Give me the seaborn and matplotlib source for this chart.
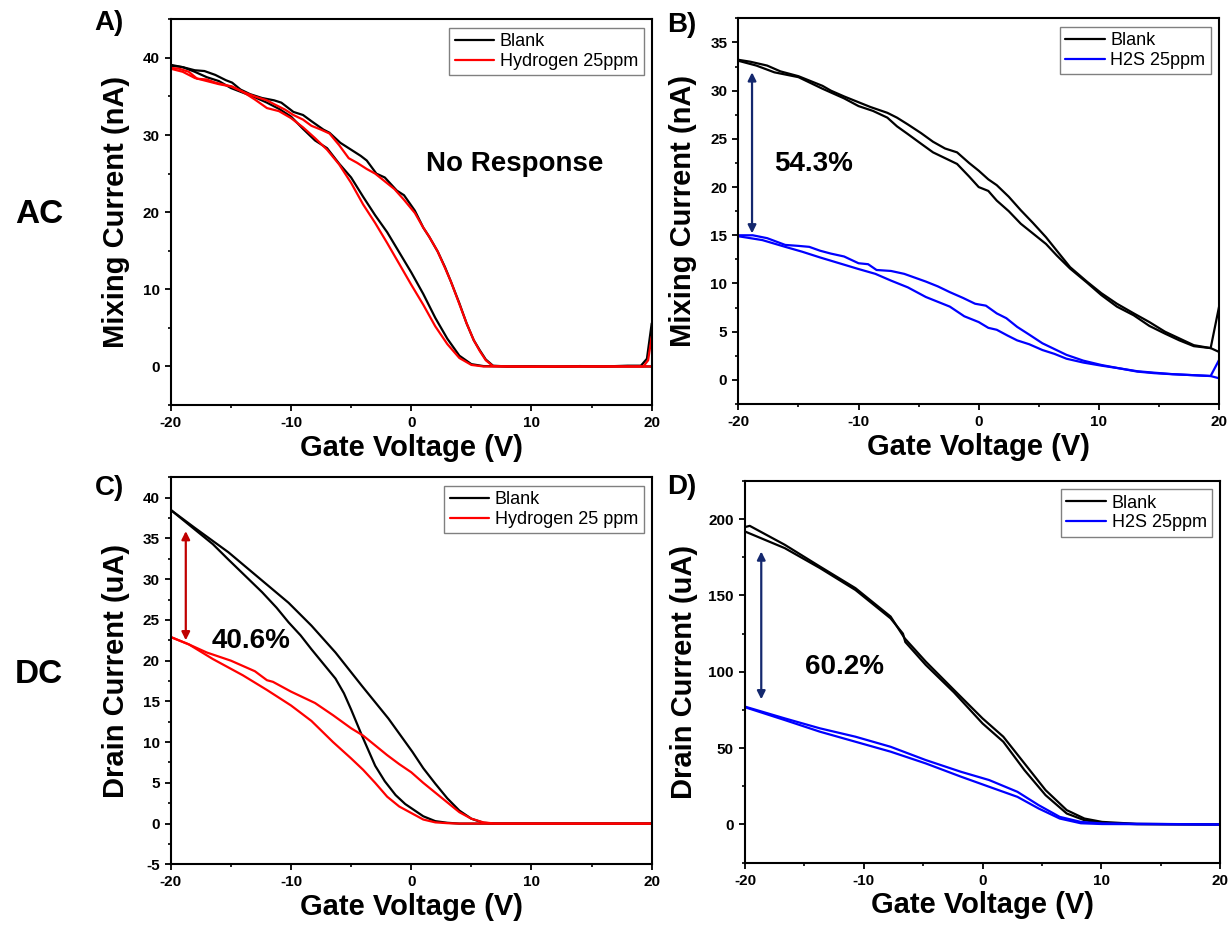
import matplotlib
matplotlib.use('Agg')
import matplotlib.pyplot as plt
import seaborn as sns
import pandas as pd
from matplotlib.ticker import MultipleLocator
from matplotlib.lines import Line2D

# ---------------- Panel A: AC mixing current, hydrogen ----------------
a_blank_fwd_v = [-20, -19, -18, -17.2, -16.3, -15.4, -14.9, -14.2, -13.4, -12.4, -11.4, -10.8, -9.8, -9.0, -8.3,
                 -7.3, -6.8, -5.9, -5.1, -4.2, -3.7, -2.9, -2.2, -1.2, -0.6, 0.3, 1.0, 1.5, 2.2, 2.8, 3.3, 4.0,
                 4.6, 5.2, 5.7, 6.2, 6.8, 8, 10, 12, 14, 16, 18, 19.1, 19.6, 20]
a_blank_fwd_i = [39.1, 38.8, 38.4, 38.3, 37.8, 37.1, 36.8, 35.9, 35.3, 34.8, 34.5, 34.2, 33.0, 32.6, 31.8,
                 30.7, 30.3, 29.0, 28.2, 27.3, 26.7, 25.0, 24.5, 22.8, 22.2, 20.2, 18.0, 16.8, 14.9, 12.9, 11.0, 8.2,
                 5.6, 3.4, 2.1, 0.9, 0.1, 0, 0, -0.05, 0.05, 0, 0.1, 0.1, 1.0, 5.6]
a_blank_rev_v = [-20, -19, -18, -17, -16, -15, -14, -13, -12, -11, -10, -9, -8, -7, -6, -5, -4, -3, -2, -1,
                 0, 1, 2, 3, 4, 5, 6, 8, 12, 16, 20]
a_blank_rev_i = [39.0, 38.8, 38.2, 37.5, 37.0, 36.1, 35.5, 34.9, 34.2, 33.4, 32.4, 30.8, 29.3, 28.3, 26.3, 24.5,
                 22.0, 19.6, 17.4, 14.8, 12.2, 9.4, 6.3, 3.6, 1.4, 0.3, 0.05, 0, 0, 0, 0]
a_gas_fwd_v = [-20, -19.3, -18.5, -17.8, -17.0, -16.3, -15.5, -14.9, -14.0, -13.0, -12.0, -11.4, -10.5, -9.8,
               -9.0, -8.3, -7.5, -6.8, -6.0, -5.2, -4.5, -3.7, -3.0, -2.2, -1.4, -0.6, 0.3, 1.0, 1.5, 2.2, 2.8,
               3.3, 4.0, 4.6, 5.2, 5.7, 6.2, 6.8, 8, 10, 14, 18, 19.3, 19.7, 20]
a_gas_fwd_i = [38.7, 38.6, 38.2, 37.3, 37.2, 36.8, 36.5, 36.3, 35.6, 35.0, 34.5, 34.0, 33.3, 32.6,
               32.0, 31.2, 30.7, 30.2, 28.7, 27.0, 26.4, 25.6, 25.0, 24.0, 23.0, 21.6, 19.9, 18.0, 16.8, 14.9, 12.8,
               11.0, 8.1, 5.6, 3.4, 2.0, 0.8, 0.05, 0, -0.05, 0, 0, 0, 0.8, 3.9]
a_gas_rev_v = [-20, -19, -18, -17, -16, -15, -14, -13, -12, -11, -10, -9, -8, -7, -6, -5, -4, -3, -2, -1,
               0, 1, 2, 3, 4, 5, 6, 8, 12, 16, 20]
a_gas_rev_i = [38.6, 38.2, 37.4, 37.0, 36.6, 36.3, 35.6, 34.6, 33.5, 33.1, 32.2, 31.0, 29.6, 28.1, 26.2, 23.8,
               21.0, 18.6, 16.0, 13.3, 10.6, 8.0, 5.2, 2.9, 1.1, 0.2, 0, 0, 0, 0, 0]

# ---------------- Panel B: AC mixing current, H2S ----------------
b_blank_fwd_v = [-20, -19, -17.6, -16.5, -15.0, -14, -13, -12.3, -11.2, -10.0, -9, -7.6, -6.8, -5.9, -4.8, -3.8,
                 -2.8, -1.8, -0.8, 0, 0.8, 1.5, 2.5, 3.5, 4.5, 5.6, 6.5, 7.6, 9, 10.2, 11.5, 12.9, 14.2, 15.5,
                 16.7, 17.9, 19.3, 20]
b_blank_fwd_i = [33.2, 33.0, 32.6, 32.0, 31.5, 31.0, 30.5, 30.0, 29.4, 28.8, 28.3, 27.7, 27.2, 26.5, 25.6, 24.7,
                 24.0, 23.6, 22.5, 21.7, 20.8, 20.2, 19.0, 17.6, 16.3, 14.8, 13.4, 11.7, 10.2, 9.0, 7.9, 6.9, 6.0,
                 5.0, 4.3, 3.6, 3.3, 2.9]
b_blank_rev_v = [-20, -18.5, -17, -15.0, -13, -11.2, -10.0, -8.8, -7.6, -6.8, -5.9, -4.8, -3.8, -2.8, -1.8, -0.8,
                 0, 0.8, 1.5, 2.5, 3.5, 4.5, 5.6, 6.5, 7.6, 9, 10.2, 11.5, 12.9, 14.2, 15.5, 16.7, 17.9, 19.3, 20]
b_blank_rev_i = [33.1, 32.6, 31.9, 31.4, 30.2, 29.2, 28.4, 27.9, 27.2, 26.3, 25.5, 24.5, 23.6, 23.0, 22.4, 21.1,
                 20.0, 19.6, 18.6, 17.5, 16.2, 15.2, 14.1, 12.9, 11.55, 10.1, 8.8, 7.6, 6.7, 5.6, 4.8, 4.1, 3.5,
                 3.3, 7.6]
b_gas_fwd_v = [-20, -18.8, -17.6, -16.1, -15, -14.1, -13.2, -12.3, -11.2, -10.0, -9.2, -8.5, -7.3, -6.2, -5.3,
               -4.4, -3.4, -2.4, -1.3, -0.3, 0.6, 1.5, 2.3, 3.2, 4.2, 5.3, 6.3, 7.3, 8.7, 10.2, 11.7, 13.2, 14.6,
               16.1, 17.7, 19.3, 20]
b_gas_fwd_i = [15.0, 15.0, 14.7, 14.0, 13.9, 13.8, 13.4, 13.1, 12.8, 12.1, 12.0, 11.4, 11.3, 11.0, 10.6,
               10.2, 9.7, 9.1, 8.5, 7.9, 7.7, 6.9, 6.4, 5.5, 4.7, 3.8, 3.2, 2.6, 2.0, 1.55, 1.2, 0.9, 0.75,
               0.6, 0.5, 0.4, 0.17]
b_gas_rev_v = [-20, -18, -16.1, -14.7, -13.2, -11.6, -10.0, -8.6, -7.3, -5.9, -4.4, -3.4, -2.4, -1.2, 0, 0.8,
               1.5, 2.4, 3.2, 4.2, 5.3, 6.3, 7.3, 8.7, 10.2, 11.7, 13.2, 14.6, 16.1, 17.7, 19.3, 20]
b_gas_rev_i = [14.9, 14.5, 13.8, 13.3, 12.7, 12.1, 11.5, 11.0, 10.3, 9.6, 8.6, 8.1, 7.6, 6.6, 6.0, 5.4,
               5.2, 4.6, 4.1, 3.7, 3.1, 2.7, 2.2, 1.8, 1.48, 1.2, 0.86, 0.7, 0.59, 0.5, 0.41, 2.07]

# ---------------- Panel C: DC drain current, hydrogen ----------------
c_blank_fwd_v = [-20, -18.0, -15.2, -12.7, -10.2, -8.3, -6.3, -4.1, -1.9, 0.1, 1.0, 2.0, 3.0, 4.0, 5.0, 6.0,
                 7.0, 10, 15, 20]
c_blank_fwd_i = [38.5, 36.3, 33.3, 30.2, 27.1, 24.3, 21.0, 16.9, 12.9, 8.8, 6.8, 4.9, 3.1, 1.6, 0.6, 0.1,
                 0, 0, 0, 0]
c_blank_rev_v = [-20, -18.0, -16.5, -15.2, -13.8, -12.4, -11.2, -10.2, -9.2, -8.3, -7.3, -6.3, -5.6, -5.0,
                 -4.1, -3.0, -2.2, -1.3, -0.5, 0.1, 1.0, 2.0, 3.0, 4.0, 6, 10, 15, 20]
c_blank_rev_i = [38.5, 36.1, 34.3, 32.4, 30.4, 28.4, 26.5, 24.7, 23.1, 21.4, 19.6, 17.8, 16.0, 14.0,
                 10.8, 7.1, 5.2, 3.5, 2.4, 1.8, 0.9, 0.3, 0.1, 0, 0, 0, 0, 0]
c_gas_fwd_v = [-20, -18.5, -17, -15, -13, -12, -11.5, -10, -8, -6.5, -5, -4, -3, -2, -1, 0, 1, 2, 3, 4, 5, 6,
               7, 10, 15, 20]
c_gas_fwd_i = [22.9, 22.0, 21.0, 20.0, 18.7, 17.6, 17.4, 16.2, 14.8, 13.3, 11.7, 10.8, 9.6, 8.4, 7.3, 6.3,
               5.0, 3.8, 2.6, 1.4, 0.6, 0.15, 0, 0, 0, 0]
c_gas_rev_v = [-20, -18.5, -16.5, -14, -12, -10, -8.3, -6.5, -5, -4, -3, -2, -1, 0, 1, 2, 3, 4, 10, 15, 20]
c_gas_rev_i = [22.9, 22.0, 20.2, 18.2, 16.4, 14.5, 12.6, 10.0, 8.0, 6.6, 5.0, 3.3, 2.1, 1.3, 0.5, 0.15, 0.05,
               0, 0, 0, 0]

# ---------------- Panel D: DC drain current, H2S ----------------
d_blank_fwd_v = [-20, -19.6, -16.65, -13.7, -10.7, -7.74, -6.56, -4.78, -2.4, 0, 1.75, 3.53, 5.31, 7.09, 8.58,
                 10.06, 13.0, 20]
d_blank_fwd_i = [194.8, 195.6, 183.2, 169.0, 154.8, 136.2, 122.0, 106.7, 88.1, 69.5, 57.5, 40.0, 22.5, 9.4,
                 3.9, 1.7, 0.4, 0]
d_blank_rev_v = [-20, -16.65, -13.7, -10.7, -7.74, -6.7, -6.5, -4.78, -2.4, 0, 1.75, 3.53, 5.31, 7.09, 8.58,
                 10.06, 13, 20]
d_blank_rev_i = [191.9, 181.0, 168.0, 153.6, 135.0, 125.0, 119.5, 104.5, 86.5, 66.2, 54.2, 35.6, 19.2, 7.2,
                 2.8, 1.1, 0.2, 0]
d_gas_fwd_v = [-20, -16.65, -13.7, -10.7, -7.74, -4.78, -1.81, 0.56, 2.94, 4.72, 6.5, 8.28, 10.06, 20]
d_gas_fwd_i = [77.2, 69.5, 63.0, 57.5, 50.9, 42.2, 34.5, 29.1, 21.4, 12.7, 5.0, 1.7, 0.7, 0]
d_gas_rev_v = [-20, -16.65, -13.7, -10.7, -7.74, -4.78, -1.81, 0.56, 2.94, 4.72, 6.5, 8.28, 10.06, 20]
d_gas_rev_i = [76.8, 68.4, 60.8, 54.2, 47.7, 40.0, 31.3, 24.7, 18.1, 10.5, 3.9, 0.8, 0.3, 0]

# ---------------- Labels ----------------
panel_letters = ["A)", "B)", "C)", "D)"]
row_labels = ["AC", "DC"]
x_label = "Gate Voltage (V)"
y_labels = ["Mixing Current (nA)", "Mixing Current (nA)", "Drain Current (uA)", "Drain Current (uA)"]
legend_labels = [["Blank", "Hydrogen 25ppm"], ["Blank", "H2S 25ppm"],
                 ["Blank", "Hydrogen 25 ppm"], ["Blank", "H2S 25ppm"]]
x_ticks = [-20, -10, 0, 10, 20]

# ---------------- Style ----------------
sns.set_theme(style='ticks')
plt.rcParams['font.family'] = ['Liberation Sans', 'DejaVu Sans']
plt.rcParams['font.weight'] = 'bold'
plt.rcParams['axes.unicode_minus'] = False
plt.rcParams['axes.linewidth'] = 1.5
plt.rcParams['axes.edgecolor'] = 'black'
plt.rcParams['text.color'] = 'black'
plt.rcParams['axes.labelcolor'] = 'black'
plt.rcParams['xtick.color'] = 'black'
plt.rcParams['ytick.color'] = 'black'
plt.rcParams['xtick.labelcolor'] = 'black'
plt.rcParams['ytick.labelcolor'] = 'black'

fig = plt.figure(figsize=(12.32, 9.26), dpi=100)
fig.patch.set_facecolor('white')

rects = [
    [0.1386, 0.5626, 0.3904, 0.4165],
    [0.5993, 0.5637, 0.3902, 0.4165],
    [0.1386, 0.0666, 0.3904, 0.4179],
    [0.6047, 0.0684, 0.3856, 0.4122],
]

panels = [
    dict(branches=[(a_blank_fwd_v, a_blank_fwd_i, 'Blank'), (a_blank_rev_v, a_blank_rev_i, 'Blank'),
                   (a_gas_fwd_v, a_gas_fwd_i, 'Gas'), (a_gas_rev_v, a_gas_rev_i, 'Gas')],
         gas_color='#ff0000', ylim=(-5, 45), ymaj=10, ymin=5),
    dict(branches=[(b_blank_fwd_v, b_blank_fwd_i, 'Blank'), (b_blank_rev_v, b_blank_rev_i, 'Blank'),
                   (b_gas_fwd_v, b_gas_fwd_i, 'Gas'), (b_gas_rev_v, b_gas_rev_i, 'Gas')],
         gas_color='#0000ff', ylim=(-2.5, 37.5), ymaj=5, ymin=2.5),
    dict(branches=[(c_blank_fwd_v, c_blank_fwd_i, 'Blank'), (c_blank_rev_v, c_blank_rev_i, 'Blank'),
                   (c_gas_fwd_v, c_gas_fwd_i, 'Gas'), (c_gas_rev_v, c_gas_rev_i, 'Gas')],
         gas_color='#ff0000', ylim=(-5, 42.5), ymaj=5, ymin=2.5),
    dict(branches=[(d_blank_fwd_v, d_blank_fwd_i, 'Blank'), (d_blank_rev_v, d_blank_rev_i, 'Blank'),
                   (d_gas_fwd_v, d_gas_fwd_i, 'Gas'), (d_gas_rev_v, d_gas_rev_i, 'Gas')],
         gas_color='#0000ff', ylim=(-25, 225), ymaj=50, ymin=25),
]

ylabel_x = [-0.085, -0.085, -0.085, -0.098]
axes = []
for k, (rect, p) in enumerate(zip(rects, panels)):
    ax = fig.add_axes(rect)
    axes.append(ax)
    rows = []
    for b, (vv, ii, s) in enumerate(p['branches']):
        for v, i in zip(vv, ii):
            rows.append(dict(V=v, I=i, series=s, branch=b))
    df = pd.DataFrame(rows)
    sns.lineplot(data=df, x='V', y='I', hue='series', units='branch', estimator=None, sort=False,
                 palette={'Blank': '#000000', 'Gas': p['gas_color']}, linewidth=1.6, legend=False, ax=ax)
    ax.set_xlim(-20, 20)
    ax.set_xticks(x_ticks)
    ax.xaxis.set_minor_locator(MultipleLocator(5))
    ax.yaxis.set_major_locator(MultipleLocator(p['ymaj']))
    ax.yaxis.set_minor_locator(MultipleLocator(p['ymin']))
    ax.set_ylim(*p['ylim'])
    ax.tick_params(which='major', direction='out', length=4.5, width=1.3, labelsize=11, pad=3.5,
                   top=False, right=False, colors='black')
    ax.tick_params(which='minor', direction='out', length=2.5, width=1.2, top=False, right=False,
                   colors='black')
    for lbl in ax.get_xticklabels() + ax.get_yticklabels():
        lbl.set_fontweight('bold')
        lbl.set_color('black')
    for sp in ax.spines.values():
        sp.set_visible(True)
        sp.set_linewidth(1.5)
        sp.set_color('black')
    ax.set_xlabel(x_label, fontsize=21, fontweight='bold', color='black')
    ax.set_ylabel(y_labels[k], fontsize=21, fontweight='bold', color='black')
    ax.xaxis.set_label_coords(0.5, -0.075)
    ax.yaxis.set_label_coords(ylabel_x[k], 0.5)
    ax.grid(False)
    handles = [Line2D([], [], color='#000000', lw=1.6), Line2D([], [], color=p['gas_color'], lw=1.6)]
    leg = ax.legend(handles, legend_labels[k], loc='upper right', bbox_to_anchor=(0.983, 0.978),
                    borderaxespad=0, prop={'weight': 'normal', 'size': 13}, frameon=True, fancybox=False,
                    framealpha=1, edgecolor='#808080', handlelength=2.2, handletextpad=0.3,
                    borderpad=0.3, labelspacing=0.15)
    leg.get_frame().set_linewidth(1.0)
    for t in leg.get_texts():
        t.set_color('black')

# annotations
axA, axB, axC, axD = axes
axA.text(8.6, 26.3, "No Response", fontsize=20, fontweight='bold', ha='center', va='center', color='black')
axB.text(-13.76, 22.4, "54.3%", fontsize=20, fontweight='bold', ha='center', va='center', color='black')
axC.text(-13.35, 22.4, "40.6%", fontsize=20, fontweight='bold', ha='center', va='center', color='black')
axD.text(-11.6, 103.4, "60.2%", fontsize=20, fontweight='bold', ha='center', va='center', color='black')

arrow_specs = [(axB, -18.86, 31.9, 15.2, '#14286e'), (axC, -18.75, 35.9, 22.5, '#c00000'),
               (axD, -18.63, 178.8, 82.0, '#14286e')]
for ax, xa, ytop, ybot, col in arrow_specs:
    ax.annotate('', xy=(xa, ytop), xytext=(xa, ybot),
                arrowprops=dict(arrowstyle='<|-|>', color=col, lw=1.6, mutation_scale=12,
                                shrinkA=0, shrinkB=0))

# panel letters and row labels
letter_pos = [(0.0885, 0.9755), (0.5533, 0.9733), (0.0885, 0.4733), (0.5533, 0.474)]
for (px, py), t in zip(letter_pos, panel_letters):
    fig.text(px, py, t, fontsize=20, fontweight='bold', ha='center', va='center', color='black')
fig.text(0.0321, 0.7684, row_labels[0], fontsize=24, fontweight='bold', ha='center', va='center', color='black')
fig.text(0.0313, 0.2721, row_labels[1], fontsize=24, fontweight='bold', ha='center', va='center', color='black')

fig.savefig('out.png', dpi=100, facecolor='white')
